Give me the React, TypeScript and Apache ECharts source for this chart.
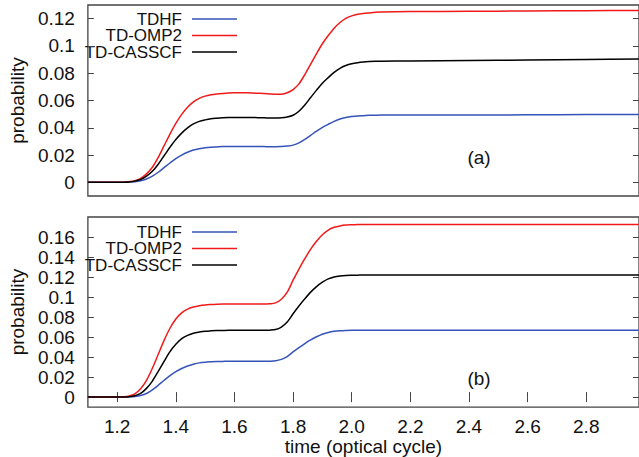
import React, { useEffect, useRef } from "react";
import * as echarts from "echarts";

// ---- data ----
const time = [
  1.1, 1.2, 1.22, 1.24, 1.26, 1.28, 1.3, 1.32, 1.34, 1.36, 1.38, 1.4, 1.42, 1.44, 1.46, 1.48, 1.5, 1.52, 1.54, 1.56, 1.58,
  1.6, 1.62, 1.64, 1.66, 1.68, 1.7, 1.72, 1.74,
  1.76, 1.78, 1.8, 1.82, 1.84, 1.86, 1.88, 1.9, 1.92, 1.94, 1.96, 1.98, 2.0, 2.02, 2.04, 2.06, 2.08, 2.1,
  2.2, 2.4, 2.6, 2.8, 2.98,
];

// panel (a)
const aTDHF = [
  0, 0, 0.0001, 0.0002, 0.0005, 0.0012, 0.0025, 0.0045, 0.0074, 0.0108, 0.0142, 0.0174, 0.02, 0.0221, 0.0237, 0.0247, 0.0254, 0.0258, 0.026, 0.0262, 0.0263,
  0.0263, 0.0263, 0.0263, 0.0263, 0.0262, 0.0262, 0.0261, 0.0261,
  0.0262, 0.0266, 0.0273, 0.0289, 0.0315, 0.0345, 0.0375, 0.0403, 0.0426, 0.0447, 0.0464, 0.0475, 0.0482, 0.0487, 0.0489, 0.0491, 0.0492, 0.0493,
  0.0494, 0.0494, 0.0495, 0.0497, 0.0498,
];
const aOMP2 = [
  0, 0, 0.0001, 0.0005, 0.0012, 0.0029, 0.0062, 0.0111, 0.0183, 0.0269, 0.0354, 0.0432, 0.0498, 0.055, 0.059, 0.0616, 0.0632, 0.0642, 0.0648, 0.0652, 0.0655,
  0.0656, 0.0656, 0.0656, 0.0655, 0.0653, 0.0651, 0.0648, 0.0645,
  0.0646, 0.0657, 0.068, 0.0722, 0.079, 0.0866, 0.0944, 0.1016, 0.1076, 0.113, 0.1172, 0.1202, 0.122, 0.1232, 0.1238, 0.1242, 0.1246, 0.1248,
  0.1252, 0.1254, 0.1256, 0.1258, 0.126,
];
const aCASSCF = [
  0, 0, 0.0001, 0.0003, 0.0009, 0.0021, 0.0045, 0.0081, 0.0133, 0.0195, 0.0257, 0.0314, 0.0361, 0.0399, 0.0428, 0.0447, 0.0458, 0.0466, 0.047, 0.0473, 0.0475,
  0.0476, 0.0476, 0.0476, 0.0475, 0.0474, 0.0473, 0.0472, 0.0471,
  0.0473, 0.0479, 0.0492, 0.0521, 0.0567, 0.0622, 0.0676, 0.0727, 0.0768, 0.0806, 0.0836, 0.0856, 0.0869, 0.0877, 0.0882, 0.0885, 0.0887, 0.0888,
  0.089, 0.0893, 0.0897, 0.0901, 0.0905,
];

// panel (b)
const bTDHF = [
  0, 0, 0, 0.0002, 0.0006, 0.0016, 0.0036, 0.0072, 0.0118, 0.0168, 0.0215, 0.0254, 0.0286, 0.0311, 0.0329, 0.0342, 0.0349, 0.0353, 0.0356, 0.0357, 0.0358,
  0.0358, 0.0358, 0.0358, 0.0358, 0.0358, 0.0358, 0.0359, 0.0363,
  0.0377, 0.0405, 0.0451, 0.0494, 0.0535, 0.0572, 0.0603, 0.0628, 0.0646, 0.0657, 0.0663, 0.0666, 0.0667, 0.0667, 0.0668, 0.0668, 0.0668, 0.0668,
  0.0668, 0.0668, 0.0668, 0.0668, 0.0668,
];
const bOMP2 = [
  0, 0, 0.0003, 0.0011, 0.0033, 0.0084, 0.0167, 0.0288, 0.0428, 0.0567, 0.0688, 0.0781, 0.0842, 0.0879, 0.09, 0.0913, 0.0921, 0.0925, 0.0928, 0.093, 0.093,
  0.093, 0.093, 0.093, 0.093, 0.093, 0.093, 0.0933, 0.0942,
  0.0978, 0.1049, 0.1169, 0.128, 0.1383, 0.1479, 0.1558, 0.1622, 0.1669, 0.1697, 0.1711, 0.1719, 0.1722, 0.1724, 0.1725, 0.1725, 0.1725, 0.1725,
  0.1725, 0.1725, 0.1725, 0.1725, 0.1725,
];
const bCASSCF = [
  0, 0, 0.0001, 0.0004, 0.0013, 0.0037, 0.0087, 0.016, 0.0257, 0.0357, 0.0454, 0.0527, 0.0584, 0.0617, 0.0639, 0.065, 0.0658, 0.0662, 0.0665, 0.0666, 0.0667,
  0.0667, 0.0667, 0.0667, 0.0667, 0.0667, 0.0667, 0.0669, 0.0675,
  0.07, 0.075, 0.0833, 0.091, 0.0982, 0.1049, 0.1104, 0.1148, 0.1181, 0.12, 0.121, 0.1216, 0.1218, 0.1219, 0.122, 0.122, 0.122, 0.122,
  0.122, 0.122, 0.122, 0.122, 0.122,
];

const seriesNames = ["TDHF", "TD-OMP2", "TD-CASSCF"];
const seriesColors = ["#3553b8", "#f01a1a", "#000000"];

const xTicks = [1.2, 1.4, 1.6, 1.8, 2.0, 2.2, 2.4, 2.6, 2.8];
const yTicksA = [0, 0.02, 0.04, 0.06, 0.08, 0.1, 0.12];
const yTicksB = [0, 0.02, 0.04, 0.06, 0.08, 0.1, 0.12, 0.14, 0.16];

const FONT = "Liberation Sans";
const AXIS_COLOR = "#444";

export default function App() {
  const ref = useRef<HTMLDivElement>(null);
  useEffect(() => {
    if (!ref.current) return;
    const chart = echarts.init(ref.current, null, { renderer: "svg" });
    const pairs = (ys: number[]) => time.map((t, i) => [t, ys[i]]);
    const lineSeries = (name: string, color: string, ys: number[], x: number, y: number) => ({
      type: "line",
      name,
      data: pairs(ys),
      xAxisIndex: x,
      yAxisIndex: y,
      showSymbol: false,
      symbol: "none",
      smooth: 0.3,
      lineStyle: { color, width: 1.5 },
      itemStyle: { color },
    });
    const gridA = { left: 80, top: 5, width: 562, height: 191 };
    const gridB = { left: 80, top: 217, width: 562, height: 191 };
    const baseX = (gridIndex: number, position: string, showTicks: boolean, showLabels: boolean) => ({
      type: "value",
      gridIndex,
      position,
      min: 1.1,
      max: 2.98,
      splitLine: { show: false },
      axisLine: { show: false },
      axisTick: {
        show: showTicks,
        inside: true,
        length: 5,
        lineStyle: { color: AXIS_COLOR, width: 1 },
        customValues: xTicks,
      },
      axisLabel: {
        show: showLabels,
        customValues: xTicks,
        formatter: (v: number) => v.toFixed(1),
        fontFamily: FONT,
        fontSize: 19,
        color: "#111",
        margin: 10,
      },
    });
    const baseY = (gridIndex: number, position: string, max: number, ticks: number[], showLabels: boolean) => ({
      type: "value",
      gridIndex,
      position,
      min: -0.01,
      max,
      splitLine: { show: false },
      axisLine: { show: false },
      axisTick: {
        show: true,
        inside: true,
        length: 6,
        lineStyle: { color: AXIS_COLOR, width: 1 },
        customValues: ticks,
      },
      axisLabel: {
        show: showLabels,
        customValues: ticks,
        formatter: (v: number) => String(+v.toFixed(2)),
        fontFamily: FONT,
        fontSize: 19,
        color: "#111",
        margin: 13,
      },
      name: showLabels ? "probability" : "",
      nameLocation: "middle",
      nameGap: 53,
      nameTextStyle: { fontFamily: FONT, fontSize: 19, color: "#111" },
    });

    const legendGraphics: any[] = [];
    const legendTops = [19, 232];
    legendTops.forEach((top) => {
      seriesNames.forEach((n, i) => {
        const y = top + i * 16.5;
        legendGraphics.push({
          type: "text",
          x: 182,
          y,
          style: {
            text: n,
            fontFamily: FONT,
            fontSize: 17,
            lineHeight: 15,
            fill: "#111",
            align: "right",
            verticalAlign: "middle",
          },
        });
        legendGraphics.push({
          type: "line",
          shape: { x1: 192, y1: y, x2: 237, y2: y },
          style: { stroke: seriesColors[i], lineWidth: 1.5 },
        });
      });
    });

    chart.setOption({
      animation: false,
      grid: [
        { ...gridA, show: true, borderColor: AXIS_COLOR, borderWidth: 1.3, backgroundColor: "transparent" },
        { ...gridB, show: true, borderColor: AXIS_COLOR, borderWidth: 1.3, backgroundColor: "transparent" },
      ],
      xAxis: [
        baseX(0, "bottom", false, false),
        {
          ...baseX(1, "bottom", true, true),
          name: "time (optical cycle)",
          nameLocation: "middle",
          nameGap: 25,
          nameTextStyle: { fontFamily: FONT, fontSize: 19, color: "#111" },
        },
        baseX(1, "top", true, false),
      ],
      yAxis: [
        baseY(0, "left", 0.13, yTicksA, true),
        baseY(0, "right", 0.13, yTicksA, false),
        baseY(1, "left", 0.18, yTicksB, true),
        baseY(1, "right", 0.18, yTicksB, false),
      ],
      series: [
        lineSeries(seriesNames[0], seriesColors[0], aTDHF, 0, 0),
        lineSeries(seriesNames[1], seriesColors[1], aOMP2, 0, 0),
        lineSeries(seriesNames[2], seriesColors[2], aCASSCF, 0, 0),
        lineSeries(seriesNames[0], seriesColors[0], bTDHF, 1, 2),
        lineSeries(seriesNames[1], seriesColors[1], bOMP2, 1, 2),
        lineSeries(seriesNames[2], seriesColors[2], bCASSCF, 1, 2),
      ],
      graphic: [
        ...legendGraphics,
        {
          type: "text",
          x: 479,
          y: 157,
          style: { text: "(a)", fontFamily: FONT, fontSize: 19, fill: "#111", align: "center", verticalAlign: "middle" },
        },
        {
          type: "text",
          x: 479,
          y: 378,
          style: { text: "(b)", fontFamily: FONT, fontSize: 19, fill: "#111", align: "center", verticalAlign: "middle" },
        },
      ],
    });
    return () => chart.dispose();
  }, []);
  return (
    <div
      ref={ref}
      style={{ position: "fixed", left: 0, top: 0, width: 639, height: 457, background: "#fff" }}
    />
  );
}
